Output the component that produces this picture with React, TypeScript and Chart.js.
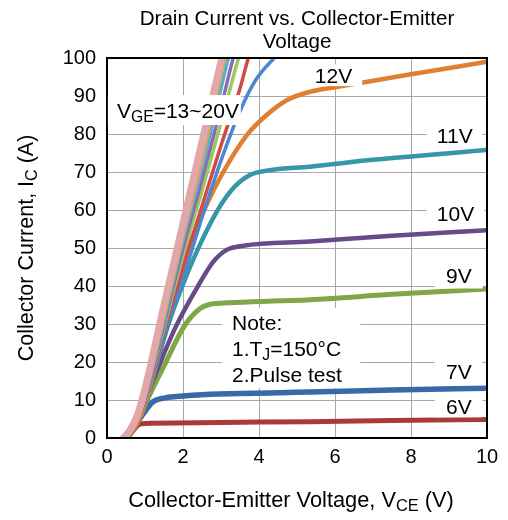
import React, { useEffect, useRef } from "react";
import { Chart, registerables } from "chart.js";
Chart.register(...registerables);

const FONT = "'Liberation Sans', Arial, Helvetica, sans-serif";

// ---- data (VCE in V, IC in A) ----
const V20 = [0.43, 0.6, 0.8, 1.0, 1.5, 2.0, 2.5, 3.02, 3.2];
const I20 = [0, 2, 6, 13, 35, 56.5, 78, 100, 108];
const V19 = [0.5, 0.8, 1.0, 1.5, 2.0, 2.5, 3.06, 3.25];
const I19 = [0, 5, 11, 33, 54, 75, 100, 108];
const V18 = [0.5, 0.8, 1.0, 1.5, 2.0, 2.5, 3.1, 3.3];
const I18 = [0, 5, 11, 32, 53, 73, 100, 108];
const V17 = [0.5, 0.8, 1.0, 1.5, 2.0, 2.5, 3.0, 3.19, 3.4];
const I17 = [0, 5, 11, 31, 52, 71, 92, 100, 108];
const V16 = [0.5, 0.8, 1.0, 1.5, 2.0, 2.5, 3.0, 3.32, 3.55];
const I16 = [0, 5, 10, 30, 50, 68, 87, 100, 108];
const V15 = [0.5, 0.8, 1.0, 1.5, 2.0, 2.5, 3.0, 3.46, 3.7];
const I15 = [0, 5, 10, 29, 48, 65, 83, 100, 108];
const V14 = [0.5, 0.8, 1.0, 1.5, 2.0, 2.5, 3.0, 3.5, 3.72, 4.0];
const I14 = [0, 5, 10, 28, 45, 61, 77, 92, 100, 108];
const V13 = [0.5, 0.8, 1.0, 1.5, 2.0, 2.5, 3.0, 3.5, 3.9, 4.4, 4.8];
const I13 = [0, 5, 10, 27, 42, 58, 73, 86, 94, 100, 104];
const V12 = [0.55, 0.8, 1.0, 1.5, 1.83, 2.14, 2.54, 3.06, 3.68, 4.2, 4.73, 5.34, 6.0, 6.7, 8, 10];
const I12 = [0, 4, 9, 28, 39.4, 50, 59.6, 70, 79.7, 85, 88.9, 91.1, 92.3, 93.5, 95.7, 99];
const V11 = [0.55, 0.8, 1.0, 1.31, 1.61, 1.96, 2.4, 2.89, 3.32, 3.76, 4.29, 5.34, 7, 10];
const I11 = [0, 4, 8.5, 19.6, 29.7, 39.4, 49.9, 59.6, 65.7, 69.2, 70.5, 71.4, 73.2, 75.8];
const V10 = [0.55, 0.8, 1.0, 1.39, 1.83, 2.36, 2.8, 3.15, 3.59, 5.34, 7.5, 10];
const I10 = [0, 4, 9.6, 19.6, 29.7, 39.4, 46.4, 49.5, 50.6, 51.7, 53.2, 54.7];
const V9 = [0.55, 0.8, 1.04, 1.53, 2.05, 2.45, 2.71, 3.2, 4.55, 5.34, 7.5, 10];
const I9 = [0, 4, 9.6, 19.6, 29.7, 34.1, 35.2, 35.6, 36.1, 36.4, 37.8, 39.2];
const V7 = [0.5, 0.7, 0.96, 1.22, 1.5, 1.83, 2.71, 4.55, 5.34, 7.5, 10];
const I7 = [0, 2.5, 6.5, 9.6, 10.5, 10.9, 11.5, 11.9, 12.1, 12.6, 13.1];
const V6 = [0.5, 0.65, 0.87, 1.2, 3, 5.34, 7.5, 10];
const I6 = [0, 1.5, 3.7, 3.9, 4.1, 4.3, 4.6, 4.9];

const X_MIN = 0, X_MAX = 10, X_STEP = 2;
const Y_MIN = 0, Y_MAX = 100, Y_STEP = 10;

const TITLE_LINES = ["Drain Current vs. Collector-Emitter", "Voltage"];

type Seg = { t: string; sub?: boolean };
const X_TITLE: Seg[] = [{ t: "Collector-Emitter Voltage, V" }, { t: "CE", sub: true }, { t: " (V)" }];
const Y_TITLE: Seg[] = [{ t: "Collector Current, I" }, { t: "C", sub: true }, { t: " (A)" }];

// label anchors in data coords (text left, vertical middle) + white box padding in px
const LABELS: { segs: Seg[]; x: number; y: number; pl: number; pr: number; h: number }[] = [
  { segs: [{ t: "V" }, { t: "GE", sub: true }, { t: "=13~20V" }], x: 0.26, y: 86.3, pl: 9, pr: 2, h: 30 },
  { segs: [{ t: "12V" }], x: 5.47, y: 95.5, pl: 3, pr: 10, h: 22 },
  { segs: [{ t: "11V" }], x: 8.68, y: 79.7, pl: 10, pr: 10, h: 26 },
  { segs: [{ t: "10V" }], x: 8.68, y: 59.2, pl: 10, pr: 10, h: 26 },
  { segs: [{ t: "9V" }], x: 8.92, y: 42.9, pl: 11, pr: 11, h: 27 },
  { segs: [{ t: "7V" }], x: 8.92, y: 17.4, pl: 11, pr: 11, h: 24 },
  { segs: [{ t: "6V" }], x: 8.92, y: 8.2, pl: 11, pr: 11, h: 21 },
];
const NOTE_LINES: Seg[][] = [
  [{ t: "Note:" }],
  [{ t: "1.T" }, { t: "J", sub: true }, { t: "=150°C" }],
  [{ t: "2.Pulse test" }],
];

const SERIES = [
  { v: V20, i: I20, color: "#e2a7a7", w: 7 },
  { v: V19, i: I19, color: "#93b5df", w: 3.5 },
  { v: V18, i: I18, color: "#f39a46", w: 3.5 },
  { v: V17, i: I17, color: "#4db3cf", w: 3.5 },
  { v: V16, i: I16, color: "#8a6bb4", w: 3.5 },
  { v: V15, i: I15, color: "#9cc75a", w: 3.5 },
  { v: V14, i: I14, color: "#d04a4a", w: 3.5 },
  { v: V13, i: I13, color: "#4a88d0", w: 3.5 },
  { v: V12, i: I12, color: "#e07f30", w: 4.5 },
  { v: V11, i: I11, color: "#3596a8", w: 4.5 },
  { v: V10, i: I10, color: "#674a8a", w: 4.5 },
  { v: V9, i: I9, color: "#7fa647", w: 5 },
  { v: V7, i: I7, color: "#3a68a8", w: 5.5 },
  { v: V6, i: I6, color: "#a83a3a", w: 5 },
];

const SUB = 0.75;

function richWidth(ctx: CanvasRenderingContext2D, segs: Seg[], size: number) {
  let w = 0;
  for (const s of segs) {
    ctx.font = `${s.sub ? size * SUB : size}px ${FONT}`;
    w += ctx.measureText(s.t).width;
  }
  return w;
}
function drawRich(ctx: CanvasRenderingContext2D, segs: Seg[], x: number, baseline: number, size: number) {
  let cx = x;
  ctx.textBaseline = "alphabetic";
  ctx.textAlign = "left";
  for (const s of segs) {
    const fs = s.sub ? size * SUB : size;
    ctx.font = `${fs}px ${FONT}`;
    ctx.fillText(s.t, cx, baseline + (s.sub ? size * 0.2 : 0));
    cx += ctx.measureText(s.t).width;
  }
}

const overlay = {
  id: "overlay",
  afterDatasetsDraw(chart: any) {
    const { ctx, chartArea: a, scales } = chart;
    const xs = scales.x, ys = scales.y;
    ctx.save();
    ctx.strokeStyle = "#000";
    ctx.lineWidth = 2;
    ctx.strokeRect(a.left, a.top, a.right - a.left, a.bottom - a.top);
    const size = 21;
    for (const L of LABELS) {
      const tx = xs.getPixelForValue(L.x);
      const ty = ys.getPixelForValue(L.y);
      const w = richWidth(ctx, L.segs, size);
      ctx.fillStyle = "#fff";
      ctx.fillRect(tx - L.pl, ty - L.h / 2, w + L.pl + L.pr, L.h);
      ctx.fillStyle = "#000";
      drawRich(ctx, L.segs, tx, ty + size * 0.36, size);
    }
    // note box
    const nx = xs.getPixelForValue(3.29);
    const ny = ys.getPixelForValue(30.5);
    ctx.fillStyle = "#fff";
    ctx.fillRect(nx - 10, ny - 14, 138, 80);
    ctx.fillStyle = "#000";
    NOTE_LINES.forEach((segs, k) => drawRich(ctx, segs, nx, ny + size * 0.36 + k * 26, size));
    ctx.restore();
  },
  afterDraw(chart: any) {
    const { ctx, chartArea: a } = chart;
    ctx.save();
    ctx.fillStyle = "#000";
    const cxm = (a.left + a.right) / 2;
    ctx.font = `20.6px ${FONT}`;
    ctx.textAlign = "center";
    ctx.textBaseline = "alphabetic";
    ctx.fillText(TITLE_LINES[0], cxm, 25);
    ctx.fillText(TITLE_LINES[1], cxm, 48);
    const size = 21.8;
    const wx = richWidth(ctx, X_TITLE, size);
    drawRich(ctx, X_TITLE, cxm - 6 - wx / 2, 507, size);
    const ysz = 21.5;
    const wy = richWidth(ctx, Y_TITLE, ysz);
    ctx.translate(33, (a.top + a.bottom) / 2);
    ctx.rotate(-Math.PI / 2);
    drawRich(ctx, Y_TITLE, -wy / 2, 0, ysz);
    ctx.restore();
  },
};

export default function App() {
  const ref = useRef<HTMLCanvasElement>(null);
  useEffect(() => {
    document.body.style.margin = "0";
    const datasets = SERIES.map((s) => ({
      data: s.v.map((x, k) => ({ x, y: s.i[k] })),
      borderColor: s.color,
      borderWidth: s.w,
      pointRadius: 0,
      cubicInterpolationMode: "monotone" as const,
      fill: false,
      clip: 0,
      borderCapStyle: "round" as const,
    }));
    const tickFont = { family: FONT, size: 20 };
    const chart = new Chart(ref.current!, {
      type: "line",
      data: { datasets },
      options: {
        animation: false,
        responsive: false,
        devicePixelRatio: 1,
        layout: { padding: { left: 0, right: 21, top: 58, bottom: 0 } },
        plugins: { legend: { display: false }, tooltip: { enabled: false }, title: { display: false } },
        scales: {
          x: {
            type: "linear",
            min: X_MIN,
            max: X_MAX,
            ticks: { stepSize: X_STEP, font: tickFont, color: "#000", padding: 7, maxRotation: 0 },
            grid: { color: "#a8a8a8", lineWidth: 1, drawTicks: false },
            border: { display: false },
            afterFit(s: any) { s.height = 82; },
          },
          y: {
            type: "linear",
            min: Y_MIN,
            max: Y_MAX,
            ticks: { stepSize: Y_STEP, font: tickFont, color: "#000", padding: 11 },
            grid: { color: "#a8a8a8", lineWidth: 1, drawTicks: false },
            border: { display: false },
            afterFit(s: any) { s.width = 107; },
          },
        },
      },
      plugins: [overlay],
    });
    return () => chart.destroy();
  }, []);
  return <canvas ref={ref} width={508} height={520} style={{ display: "block" }} />;
}
